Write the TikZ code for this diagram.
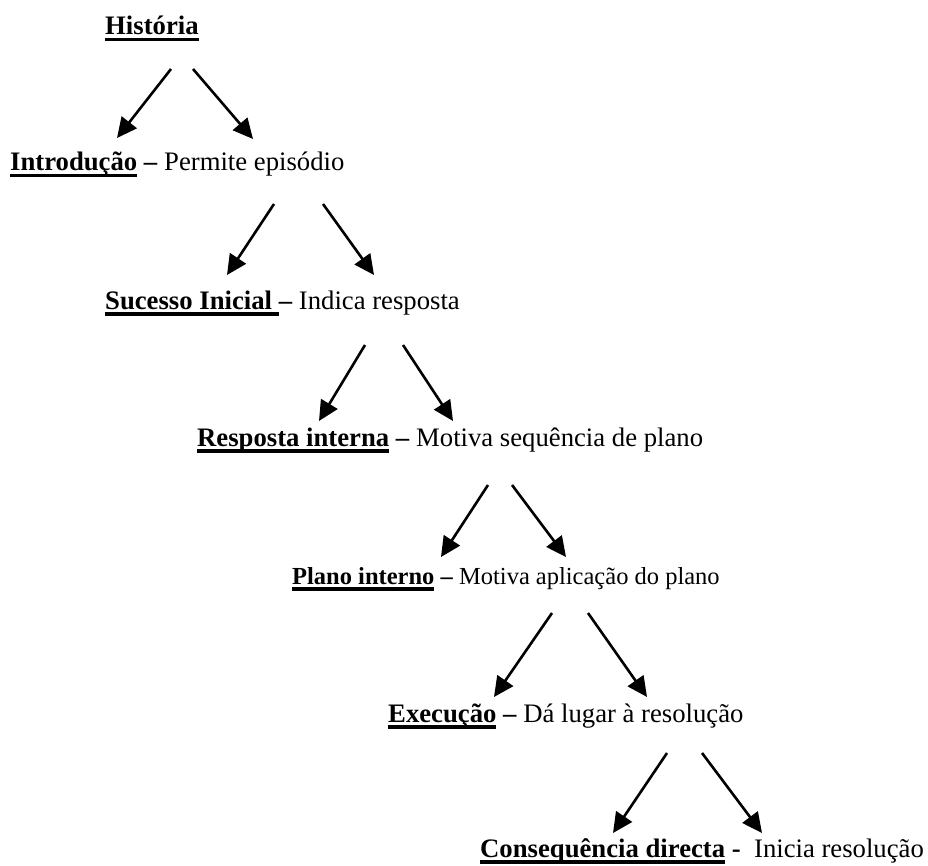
\documentclass[tikz,border=0pt]{standalone}
\usepackage{fontspec}
\setmainfont{Liberation Serif}
\usetikzlibrary{arrows.meta}

% bold text with a heavy underline beneath it
\newsavebox\ulbox
\newcommand\ulbold[1]{\sbox\ulbox{\bfseries #1}\rlap{\rule[-6.5pt]{\wd\ulbox}{3.2pt}}\usebox\ulbox}

\begin{document}
\begin{tikzpicture}[x=1pt,y=-1pt,
  lbl/.style={anchor=base west, inner sep=0pt, font=\fontsize{26.7}{32}\selectfont},
  lblsmall/.style={lbl, font=\fontsize{24.5}{30}\selectfont},
  arr/.style={line width=2.6pt, -{Triangle[length=20pt,width=19pt]}}]

\fill[white] (0,0) rectangle (928,866);
\useasboundingbox (0,0) rectangle (928,866);

% story-grammar chain
\node[lbl] (hist)  at (105,35)  {\ulbold{História}};
\node[lbl] (intro) at (10,171)  {\ulbold{Introdução} \textbf{–} Permite episódio};
\node[lbl] (suc)   at (105,309) {\ulbold{Sucesso Inicial }\textbf{–} Indica resposta};
\node[lbl] (resp)  at (197,446) {\ulbold{Resposta interna} \textbf{–} Motiva sequência de plano};
\node[lblsmall] (plano) at (292,584) {\ulbold{Plano interno} \textbf{–} Motiva aplicação do plano};
\node[lbl] (exec)  at (388,722) {\ulbold{Execução} \textbf{–} Dá lugar à resolução};
\node[lbl] (cons)  at (480,857) {\ulbold{Consequência directa} \textbf{-}\ \ Inicia resolução};

% arrow end points between consecutive lines
\coordinate (l1s) at (171,69);  \coordinate (l1t) at (117,138);
\coordinate (r1s) at (193,69);  \coordinate (r1t) at (253,139);
\coordinate (l2s) at (274,204); \coordinate (l2t) at (227,275);
\coordinate (r2s) at (323,204); \coordinate (r2t) at (374,275);
\coordinate (l3s) at (365,345); \coordinate (l3t) at (319,421);
\coordinate (r3s) at (403,345); \coordinate (r3t) at (453,421);
\coordinate (l4s) at (488,485); \coordinate (l4t) at (441,557);
\coordinate (r4s) at (512,485); \coordinate (r4t) at (566,557);
\coordinate (l5s) at (552,613); \coordinate (l5t) at (494,697);
\coordinate (r5s) at (588,613); \coordinate (r5t) at (647,697);
\coordinate (l6s) at (667,753); \coordinate (l6t) at (613,833);
\coordinate (r6s) at (702,753); \coordinate (r6t) at (762,833);

\foreach \i in {1,...,6}{
  \draw[arr] (l\i s) -- (l\i t);
  \draw[arr] (r\i s) -- (r\i t);
}
\end{tikzpicture}
\end{document}
